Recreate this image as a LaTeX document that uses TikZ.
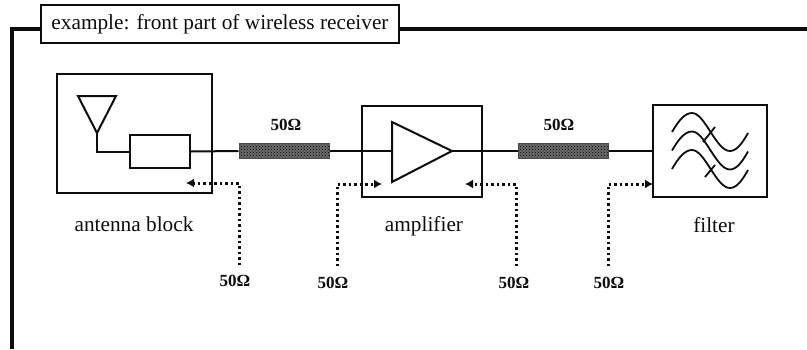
\documentclass[tikz,border=0pt]{standalone}
\usepackage{fontspec}
\setmainfont{Liberation Serif}
\usetikzlibrary{arrows.meta,patterns}
\definecolor{ink}{gray}{0.05}
\definecolor{tline}{gray}{0.42}
\tikzset{
  x=1pt,y=-1pt,
  every node/.style={text=ink},
  blockbox/.style={draw=ink,line width=2pt,fill=white,inner sep=0pt},
  wire/.style={draw=ink,line width=2pt},
  frameline/.style={draw=ink,line width=4pt},
  titlebox/.style={draw=ink,line width=1.8pt,fill=white,inner sep=0pt,minimum width=358pt,minimum height=38pt,font=\fontsize{21.3}{24}\selectfont},
  tlinebox/.style={draw=ink!75,line width=1pt,preaction={fill=tline},pattern=crosshatch dots,pattern color=black,inner sep=0pt,minimum width=90pt,minimum height=15pt},
  caption/.style={font=\fontsize{21.3}{24}\selectfont,inner sep=0pt},
  ohm/.style={font=\fontsize{17}{20}\selectfont\bfseries,inner sep=0pt},
  probe/.style={draw=ink,line width=3pt,dash pattern=on 2.5pt off 3pt,-{Latex[length=8pt,width=9pt,sep=0pt]}},
  curve/.style={draw=ink,line width=1.8pt}
}
\begin{document}
\begin{tikzpicture}
\useasboundingbox (0,0) rectangle (807,349);
\fill[white] (0,0) rectangle (807,349);
% frame
\coordinate (fb) at (12,349);
\coordinate (ftl) at (12,29);
\coordinate (fr) at (807,29);
\draw[frameline] (fb) -- (ftl) -- (fr);
\node[titlebox] (title) at (220,24) {example: front part of wireless receiver};
% blocks
\node[blockbox,minimum width=155pt,minimum height=119pt] (ant) at (134.5,133.5) {};
\node[blockbox,minimum width=120pt,minimum height=91pt] (amp) at (422,151.5) {};
\node[blockbox,minimum width=114pt,minimum height=92pt] (fil) at (710,151) {};
\node[blockbox,minimum width=60pt,minimum height=33pt] (match) at (160,151.5) {};
\node[tlinebox] (t1) at (284,151) {};
\node[tlinebox] (t2) at (563,151) {};
% antenna
\coordinate (a1) at (78,96);
\coordinate (a2) at (116,96);
\coordinate (a3) at (97,133);
\coordinate (a4) at (97,152);
\draw[wire,line join=miter] (a1) -- (a2) -- (a3) -- cycle;
\draw[wire] (a3) -- (a4) -- (match.west|-a4);
% amplifier
\coordinate (b1) at (392,122);
\coordinate (b2) at (392,182);
\coordinate (b3) at (452,151);
\draw[wire] (b1) -- (b3) -- (b2) -- cycle;
% wires
\draw[wire] (match.east) -- (t1.west);
\draw[wire] (t1.east) -- (b1|-t1.east);
\draw[wire] (b3) -- (t2.west);
\draw[wire] (t2.east) -- (fil.west|-t2.east);
% filter symbol
\foreach \dy in {0,18.5,37}{
  \draw[curve] (672,132+\dy) .. controls (679,120+\dy) and (685,113+\dy) .. (692,113+\dy)
     .. controls (705,113+\dy) and (716,151+\dy) .. (730,151+\dy)
     .. controls (737,151+\dy) and (743,142+\dy) .. (748,133+\dy);
}
\draw[curve] (715,127) -- (703,142);
\draw[curve] (715,165) -- (705,177);
% impedance probes
\coordinate (p1e) at (239,265); \coordinate (p1c) at (239,183); \coordinate (p1t) at (186,183);
\coordinate (p2e) at (337,266); \coordinate (p2c) at (337,184); \coordinate (p2t) at (382,184);
\coordinate (p3e) at (516,266); \coordinate (p3c) at (516,184); \coordinate (p3t) at (465,184);
\coordinate (p4e) at (608,266); \coordinate (p4c) at (608,184); \coordinate (p4t) at (653,184);
\draw[probe] (p1e) -- (p1c) -- (p1t);
\draw[probe] (p2e) -- (p2c) -- (p2t);
\draw[probe] (p3e) -- (p3c) -- (p3t);
\draw[probe] (p4e) -- (p4c) -- (p4t);
% labels
\node[caption] (lant) at (134,224) {antenna block};
\node[caption] (lamp) at (424,226) {amplifier};
\node[caption] (lfil) at (714,225) {filter};
\node[ohm] (o1) at (286,125) {50Ω};
\node[ohm] (o2) at (559,125) {50Ω};
\node[ohm] (o3) at (235,281) {50Ω};
\node[ohm] (o4) at (333,283) {50Ω};
\node[ohm] (o5) at (514,283) {50Ω};
\node[ohm] (o6) at (609,283) {50Ω};
\end{tikzpicture}
\end{document}
